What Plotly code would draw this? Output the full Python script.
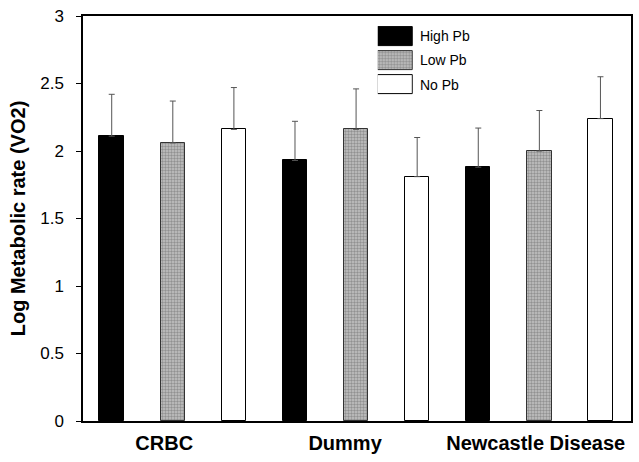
import numpy as np
import plotly.graph_objects as go

categories = ["CRBC", "Dummy", "Newcastle Disease"]
series = ["High Pb", "Low Pb", "No Pb"]
high_pb = [2.11, 1.93, 1.88]
low_pb = [2.06, 2.16, 2.00]
no_pb = [2.16, 1.81, 2.24]
high_err = [0.31, 0.29, 0.29]
low_err = [0.31, 0.30, 0.30]
no_err = [0.31, 0.29, 0.31]
y_ticks = [0, 0.5, 1, 1.5, 2, 2.5, 3]
y_ticklabels = ["0", "0.5", "1", "1.5", "2", "2.5", "3"]

values = [high_pb, low_pb, no_pb]
errors = [high_err, low_err, no_err]

FONT = "Liberation Sans, Arial, Helvetica, sans-serif"

styles = [
    dict(color="black", line=dict(color="black", width=1)),
    dict(color="#a8a8a8", line=dict(color="#333333", width=1),
         pattern=dict(shape=".", fgcolor="#5e5e5e", bgcolor="#c4c4c4", size=3, solidity=0.5)),
    dict(color="white", line=dict(color="black", width=1)),
]

fig = go.Figure()
n_series = len(series)
group_idx = np.arange(len(categories))
for s, name in enumerate(series):
    xs = group_idx * n_series + s
    fig.add_trace(go.Bar(
        x=xs, y=values[s], name=name, width=0.4,
        marker=styles[s],
        error_y=dict(type="data", array=errors[s], symmetric=False, arrayminus=[0]*len(categories),
                     color="#555555", thickness=1, width=3),
        showlegend=False,
    ))

# legend inset drawn as a small bar chart
for s, name in enumerate(series):
    fig.add_trace(go.Bar(
        x=[1], y=[name], orientation="h", width=0.78,
        marker=styles[s], xaxis="x2", yaxis="y2", showlegend=False, hoverinfo="skip",
    ))

label_pos = group_idx * n_series + 1 + np.array([-0.14, -0.18, -0.06])

fig.update_layout(
    width=639, height=462,
    margin=dict(l=83, r=8, t=15.5, b=41),
    plot_bgcolor="white", paper_bgcolor="white",
    font=dict(family=FONT, color="black"),
    xaxis=dict(
        range=[-0.47, 8.5], tickvals=label_pos, ticktext=categories,
        tickfont=dict(size=20, family=FONT, weight="bold"),
        showgrid=False, zeroline=False, showline=True, linecolor="black", linewidth=1.5,
        mirror=True, ticks="", ticklabelstandoff=3, automargin=False,
    ),
    yaxis=dict(
        range=[0, 3], tickvals=y_ticks, ticktext=y_ticklabels,
        tickfont=dict(size=17, family=FONT),
        showgrid=False, zeroline=False, showline=True, linecolor="black", linewidth=1.5,
        mirror=True, ticks="outside", ticklen=5, tickwidth=1, tickcolor="black",
        ticklabelstandoff=9, automargin=False,
        title=dict(text="Log Metabolic rate (VO2)", font=dict(size=20, family=FONT, weight="bold"), standoff=9),
    ),
    xaxis2=dict(domain=[0.538, 0.602], range=[0, 1], anchor="y2", visible=False, fixedrange=True),
    yaxis2=dict(domain=[0.80, 0.98], anchor="x2", side="right", autorange="reversed",
                categoryorder="array", categoryarray=series, automargin=False,
                showgrid=False, zeroline=False, showline=False, ticks="",
                tickfont=dict(size=14, family=FONT), ticklabelstandoff=6),
    bargap=0,
)

fig.write_html("out.html", config={"displayModeBar": False},
               post_script="document.body.style.margin='0';document.body.style.padding='0';")
